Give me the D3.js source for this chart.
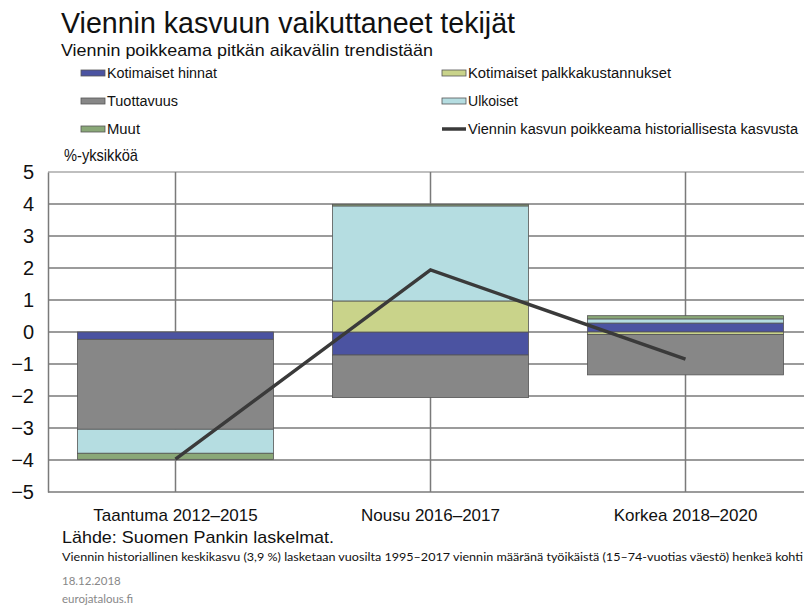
<!DOCTYPE html>
<html>
<head>
<meta charset="utf-8">
<script src="https://cdn.jsdelivr.net/npm/d3@7"></script>
<style>
  body { margin: 0; background: #fff; }
  svg { display: block; font-family: "Liberation Sans", Arial, sans-serif; }
</style>
</head>
<body>
<svg id="chart" width="804" height="606"></svg>
<script>
// values (%-units)
const categories = ["Taantuma 2012–2015", "Nousu 2016–2017", "Korkea 2018–2020"];
const kotimaisetHinnat = [-0.23, -0.72, 0.28];
const palkkakustannukset = [0, 0.97, -0.08];
const tuottavuus = [-2.81, -1.33, -1.26];
const ulkoiset = [-0.75, 2.97, 0.13];
const muut = [-0.19, 0.05, 0.10];
const poikkeama = [-3.97, 1.94, -0.85];
const yTicks = [5, 4, 3, 2, 1, 0, -1, -2, -3, -4, -5];

const seriesNames = ["Kotimaiset hinnat", "Kotimaiset palkkakustannukset", "Tuottavuus", "Ulkoiset", "Muut"];
const seriesValues = [kotimaisetHinnat, palkkakustannukset, tuottavuus, ulkoiset, muut];
const colors = ["#4b53a1", "#c9d38a", "#878787", "#b5dde1", "#8aa878"];
const lineName = "Viennin kasvun poikkeama historiallisesta kasvusta";

const svg = d3.select("#chart");

// titles
svg.append("text").attr("x", 61).attr("y", 33)
  .attr("font-size", 29).attr("fill", "#111")
  .attr("textLength", 454).attr("lengthAdjust", "spacingAndGlyphs")
  .text("Viennin kasvuun vaikuttaneet tekijät");
svg.append("text").attr("x", 61).attr("y", 56)
  .attr("font-size", 17).attr("fill", "#111")
  .attr("textLength", 372).attr("lengthAdjust", "spacingAndGlyphs")
  .text("Viennin poikkeama pitkän aikavälin trendistään");

// table for stacking
const table = categories.map((c, i) => {
  const row = { cat: c };
  seriesNames.forEach((s, j) => row[s] = seriesValues[j][i]);
  return row;
});
const stacked = d3.stack().keys(seriesNames).offset(d3.stackOffsetDiverging)(table);

const x = d3.scaleBand().domain(categories).range([48, 813])
  .paddingInner(0.231).paddingOuter(0.1155);
const y = d3.scaleLinear().domain([-5, 5]).range([492, 172]);

// horizontal gridlines
svg.append("g").selectAll("line").data(yTicks).join("line")
  .attr("x1", 48).attr("x2", 804)
  .attr("y1", d => y(d)).attr("y2", d => y(d))
  .attr("stroke", d => d === 5 ? "#aaa" : "#7a7a7a").attr("stroke-width", 1.5);

// vertical gridlines at category centres
svg.append("g").selectAll("line").data(categories).join("line")
  .attr("x1", d => x(d) + x.bandwidth() / 2).attr("x2", d => x(d) + x.bandwidth() / 2)
  .attr("y1", y(5)).attr("y2", y(-5))
  .attr("stroke", "#7a7a7a").attr("stroke-width", 1.5);

// left axis
const yAxis = d3.axisLeft(y).tickValues(yTicks).tickSize(0).tickPadding(14);
svg.append("g").attr("transform", "translate(48,0)").call(yAxis)
  .call(g => g.select(".domain").attr("stroke", "#7a7a7a").attr("stroke-width", 1.5))
  .call(g => g.selectAll("text").attr("font-size", 20).attr("fill", "#111")
    .attr("font-family", "Liberation Sans, Arial, sans-serif"));

svg.append("text").attr("x", 64).attr("y", 161)
  .attr("font-size", 17).attr("fill", "#111")
  .attr("textLength", 74).attr("lengthAdjust", "spacingAndGlyphs")
  .text("%-yksikköä");

// stacked bars
svg.append("g").selectAll("g").data(stacked).join("g")
  .attr("fill", (d, i) => colors[i])
  .selectAll("rect").data(d => d).join("rect")
  .attr("x", d => x(d.data.cat))
  .attr("width", x.bandwidth())
  .attr("y", d => y(d[1]))
  .attr("height", d => y(d[0]) - y(d[1]))
  .attr("stroke", "#555").attr("stroke-width", 0.8);

// line
const line = d3.line()
  .x((d, i) => x(categories[i]) + x.bandwidth() / 2)
  .y(d => y(d));
svg.append("path").datum(poikkeama)
  .attr("d", line).attr("fill", "none")
  .attr("stroke", "#3a3a3a").attr("stroke-width", 3.5);

// category labels
svg.append("g").selectAll("text").data(categories).join("text")
  .attr("x", d => x(d) + x.bandwidth() / 2).attr("y", 521)
  .attr("text-anchor", "middle").attr("font-size", 17).attr("fill", "#111")
  .text(d => d);

// legend
const legendPos = [
  [81, 73], [442, 73],
  [81, 101], [442, 101],
  [81, 129]
];
const legendOrder = [0, 1, 2, 3, 4];
const lg = svg.append("g");
legendOrder.forEach((si, k) => {
  const [lx, ly] = legendPos[k];
  lg.append("rect").attr("x", lx).attr("y", ly - 3).attr("width", 24).attr("height", 6)
    .attr("fill", colors[si]).attr("stroke", "#555").attr("stroke-width", 0.8);
  lg.append("text").attr("x", lx + 26).attr("y", ly + 5)
    .attr("font-size", 14).attr("fill", "#111")
    .text(seriesNames[si]);
});
lg.append("line").attr("x1", 442).attr("x2", 466).attr("y1", 129).attr("y2", 129)
  .attr("stroke", "#3a3a3a").attr("stroke-width", 3.5);
lg.append("text").attr("x", 468).attr("y", 134)
  .attr("font-size", 14).attr("fill", "#111")
  .attr("textLength", 330).attr("lengthAdjust", "spacingAndGlyphs")
  .text(lineName);
// squeeze legend labels to the narrow look of the reference
const legendWidths = { "Kotimaiset hinnat": 110, "Kotimaiset palkkakustannukset": 203, "Tuottavuus": 71, "Ulkoiset": 50, "Muut": 33 };
lg.selectAll("text").each(function() {
  const t = d3.select(this).text();
  if (legendWidths[t]) d3.select(this).attr("textLength", legendWidths[t]).attr("lengthAdjust", "spacingAndGlyphs");
});

// source and notes
svg.append("text").attr("x", 62).attr("y", 543)
  .attr("font-size", 17).attr("fill", "#111")
  .attr("textLength", 272).attr("lengthAdjust", "spacingAndGlyphs")
  .text("Lähde: Suomen Pankin laskelmat.");
svg.append("text").attr("x", 62).attr("y", 561)
  .attr("font-size", 12).attr("fill", "#111").attr("font-family", "Lato, Open Sans, sans-serif")
  .attr("textLength", 741).attr("lengthAdjust", "spacingAndGlyphs")
  .text("Viennin historiallinen keskikasvu (3,9 %) lasketaan vuosilta 1995–2017 viennin määränä työikäistä (15–74-vuotias väestö) henkeä kohti");
svg.append("text").attr("x", 62).attr("y", 585)
  .attr("font-size", 11.5).attr("fill", "#888").attr("font-family", "Lato, Open Sans, sans-serif")
  .text("18.12.2018");
svg.append("text").attr("x", 62).attr("y", 603)
  .attr("font-size", 11.5).attr("fill", "#888").attr("font-family", "Lato, Open Sans, sans-serif")
  .text("eurojatalous.fi");
</script>
</body>
</html>
